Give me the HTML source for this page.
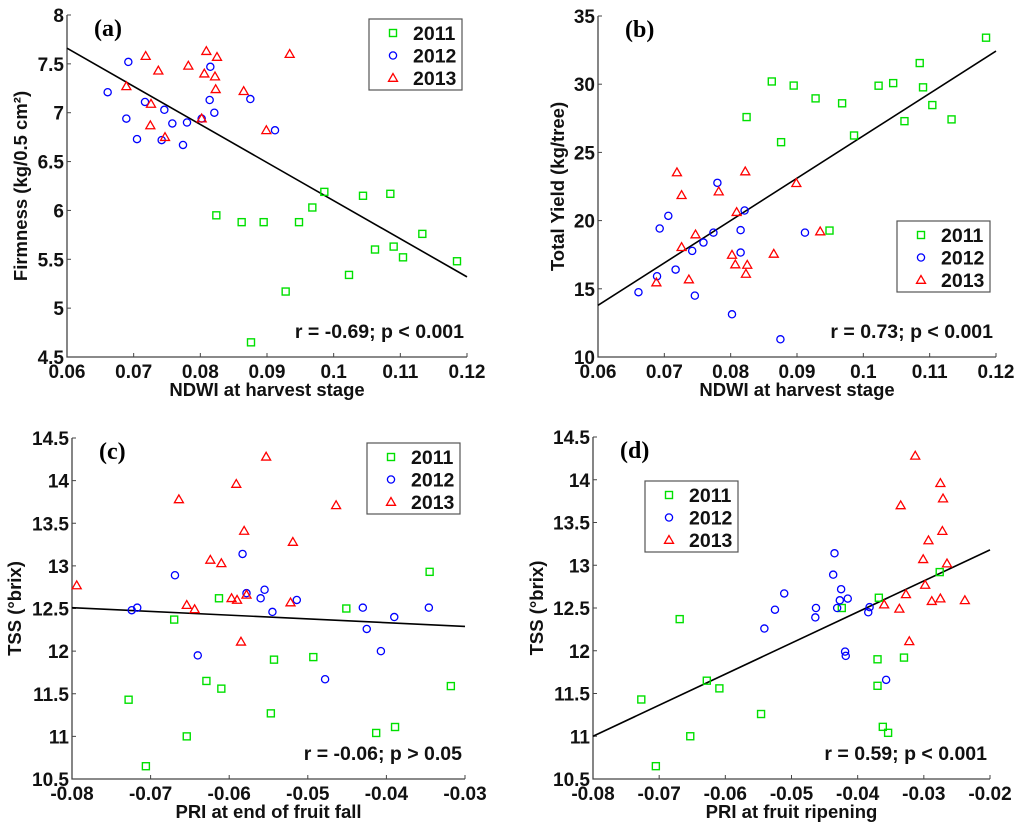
<!DOCTYPE html>
<html><head><meta charset="utf-8"><style>
html,body{margin:0;padding:0;background:#fff;}
svg{display:block;font-family:"Liberation Sans",Arial,sans-serif;}
.tk{font-size:19px;font-weight:bold;fill:#111;}
.tt{font-size:18.5px;font-weight:bold;fill:#111;}
.pl{font-family:"Liberation Serif",serif;font-size:24px;font-weight:bold;fill:#000;}
.lg{font-size:19.5px;font-weight:bold;fill:#111;}
</style></head><body>
<svg id="fig" width="1024" height="833" viewBox="0 0 1024 833" xmlns="http://www.w3.org/2000/svg"></svg>
<script>
// Panel (a)
const aX2011=[0.0824,0.0862,0.0895,0.0948,0.0968,0.0986,0.1044,0.1085,0.1133,0.1062,0.1090,0.1104,0.1185,0.1023,0.0928,0.0876];
const aY2011=[5.95,5.88,5.88,5.88,6.03,6.19,6.15,6.17,5.76,5.60,5.63,5.52,5.48,5.34,5.17,4.65];
const aX2012=[0.0661,0.0692,0.0689,0.0705,0.0717,0.0742,0.0746,0.0758,0.0780,0.0774,0.0802,0.0815,0.0814,0.0821,0.0875,0.0912];
const aY2012=[7.21,7.52,6.94,6.73,7.11,6.72,7.03,6.89,6.90,6.67,6.94,7.47,7.13,7.00,7.14,6.82];
const aX2013=[0.0718,0.0737,0.0689,0.0726,0.0725,0.0747,0.0782,0.0802,0.0809,0.0806,0.0825,0.0822,0.0823,0.0865,0.0899,0.0934];
const aY2013=[7.58,7.43,7.27,7.09,6.87,6.75,7.48,6.94,7.63,7.40,7.57,7.37,7.24,7.22,6.82,7.60];
const aFit=[0.06,7.66,0.12,5.32];
// Panel (b)
const bX2011=[0.0824,0.0862,0.0895,0.0928,0.0968,0.0986,0.1045,0.1023,0.1085,0.1090,0.1104,0.1062,0.1133,0.1185,0.0876,0.0949];
const bY2011=[27.59,30.2,29.9,28.96,28.6,26.24,30.08,29.89,31.55,29.77,28.47,27.29,27.42,33.41,25.75,19.27];
const bX2012=[0.0661,0.0693,0.0706,0.0689,0.0717,0.0742,0.0746,0.0759,0.0774,0.0780,0.0821,0.0815,0.0815,0.0802,0.0912,0.0875];
const bY2012=[14.75,19.42,20.35,15.92,16.41,17.78,14.50,18.39,19.12,22.77,20.74,19.30,17.66,13.13,19.12,11.30];
const bX2013=[0.0719,0.0726,0.0688,0.0726,0.0737,0.0747,0.0782,0.0802,0.0809,0.0807,0.0822,0.0825,0.0823,0.0865,0.0899,0.0935];
const bY2013=[23.53,21.86,15.46,18.05,15.68,18.98,22.13,17.48,20.62,16.78,23.6,16.75,16.09,17.56,22.74,19.2];
const bFit=[0.06,13.79,0.12,32.43];
// Panel (c)
const cX2011=[-0.0728,-0.0706,-0.0670,-0.0654,-0.0629,-0.0613,-0.0610,-0.0547,-0.0543,-0.0493,-0.0451,-0.0413,-0.0389,-0.0345,-0.0318];
const cY2011=[11.43,10.65,12.37,11.0,11.65,12.62,11.56,11.27,11.90,11.93,12.50,11.04,11.11,12.93,11.59];
const cX2012=[-0.0724,-0.0717,-0.0669,-0.0640,-0.0583,-0.0578,-0.0560,-0.0555,-0.0545,-0.0514,-0.0478,-0.0430,-0.0425,-0.0407,-0.0390,-0.0346];
const cY2012=[12.48,12.51,12.89,11.95,13.14,12.68,12.62,12.72,12.46,12.60,11.67,12.51,12.26,12.0,12.40,12.51];
const cX2013=[-0.0794,-0.0664,-0.0654,-0.0644,-0.0624,-0.0610,-0.0597,-0.0591,-0.0590,-0.0585,-0.0581,-0.0578,-0.0553,-0.0522,-0.0519,-0.0464];
const cY2013=[12.77,13.78,12.54,12.49,13.07,13.03,12.62,13.96,12.60,12.11,13.41,12.66,14.28,12.57,13.28,13.71];
const cFit=[-0.08,12.51,-0.03,12.29];
// Panel (d)
const dX2011=[-0.0727,-0.0705,-0.0669,-0.0653,-0.0628,-0.0609,-0.0546,-0.0424,-0.0370,-0.0368,-0.0370,-0.0362,-0.0354,-0.0330,-0.0276];
const dY2011=[11.43,10.65,12.37,11.0,11.65,11.56,11.26,12.50,11.90,12.62,11.59,11.11,11.04,11.92,12.92];
const dX2012=[-0.0541,-0.0525,-0.0511,-0.0464,-0.0463,-0.0437,-0.0435,-0.0431,-0.0427,-0.0425,-0.0415,-0.0419,-0.0418,-0.0384,-0.0382,-0.0357];
const dY2012=[12.26,12.48,12.67,12.39,12.50,12.89,13.14,12.50,12.59,12.72,12.61,11.99,11.94,12.45,12.51,11.66];
const dX2013=[-0.0313,-0.0275,-0.0271,-0.0335,-0.0272,-0.0293,-0.0301,-0.0265,-0.0298,-0.0327,-0.0360,-0.0337,-0.0288,-0.0275,-0.0238,-0.0322];
const dY2013=[14.28,13.96,13.78,13.70,13.40,13.29,13.07,13.02,12.77,12.66,12.54,12.49,12.58,12.61,12.59,12.11];
const dFit=[-0.08,11.0,-0.02,13.18];
// tick labels
const ndwiTicks=["0.06","0.07","0.08","0.09","0.1","0.11","0.12"];
const firmTicks=["4.5","5","5.5","6","6.5","7","7.5","8"];
const yieldTicks=["10","15","20","25","30","35"];
const tssTicks=["10.5","11","11.5","12","12.5","13","13.5","14","14.5"];
const priCTicks=["-0.08","-0.07","-0.06","-0.05","-0.04","-0.03"];
const priDTicks=["-0.08","-0.07","-0.06","-0.05","-0.04","-0.03","-0.02"];
const years=["2011","2012","2013"];

const NS="http://www.w3.org/2000/svg";
const svg=document.getElementById('fig');
function mk(tag,attrs,parent,text){const e=document.createElementNS(NS,tag);for(const k in attrs)e.setAttribute(k,attrs[k]);if(text!==undefined)e.textContent=text;(parent||svg).appendChild(e);return e;}

function marker(g,kind,px,py){
  let e;
  if(kind===0){e=mk('rect',{x:px-3.5,y:py-3.5,width:7,height:7,fill:'none',stroke:'#00e000','stroke-width':1.4},g);}
  else if(kind===1){e=mk('circle',{cx:px,cy:py,r:3.6,fill:'none',stroke:'#0000ff','stroke-width':1.3},g);}
  else {e=mk('polygon',{points:`${px},${py-4.5} ${px-4.5},${py+3.3} ${px+4.5},${py+3.3}`,fill:'none',stroke:'#ff0000','stroke-width':1.3},g);}
  return e;
}

function panel(p){
  const g=mk('g',{});
  
  
  const sx=v=>p.L+(v-p.x0)/(p.x1-p.x0)*(p.R-p.L);
  const sy=v=>p.B-(v-p.y0)/(p.y1-p.y0)*(p.B-p.T);
  const ax=mk('path',{d:`M${p.L},${p.T}V${p.B}H${p.R}`,fill:'none',stroke:'#444','stroke-width':1.3},g);
  
  
  p.xt.forEach(t=>{const v=parseFloat(t),x=sx(v);
    mk('line',{x1:x,y1:p.B,x2:x,y2:p.B-4,stroke:'#444','stroke-width':1},g);
    const tx=mk('text',{x:x,y:p.B+21,'text-anchor':'middle',class:'tk'},g,t);
    
    });
  p.yt.forEach(t=>{const v=parseFloat(t),y=sy(v);
    mk('line',{x1:p.L,y1:y,x2:p.L+4,y2:y,stroke:'#444','stroke-width':1},g);
    const ty=mk('text',{x:p.L-3,y:y+7,'text-anchor':'end',class:'tk'},g,t);
    
    });
  const xl=mk('text',{x:(p.L+p.R)/2,y:p.B+39,'text-anchor':'middle',class:'tt'},g,p.xlab);
  
  
  const yl=mk('text',{x:0,y:0,'text-anchor':'middle',class:'tt',transform:`translate(${p.ylx},${(p.T+p.B)/2}) rotate(-90)`},g,p.ylab);
  
  
  const lab=mk('text',{x:p.L+27,y:p.T+21,class:'pl'},g,p.label);
  
  
  const f=p.fit;
  const fl=mk('line',{x1:sx(f[0]),y1:sy(f[1]),x2:sx(f[2]),y2:sy(f[3]),stroke:'#000','stroke-width':1.6},g);
  
  
  p.series.forEach((s,k)=>{
    s[0].forEach((xv,i)=>{const m=marker(g,k,sx(xv),sy(s[1][i]));
      
      });
  });
  const an=mk('text',{x:p.R-3,y:p.B-19,'text-anchor':'end',class:'lg'},g,p.stat);
  
  
  const lg=mk('g',{},g);
  
  
  mk('rect',{x:p.lgx,y:p.lgy,width:93,height:71,fill:'#fff',stroke:'#555','stroke-width':1.2},lg);
  years.forEach((yr,k)=>{const cy=p.lgy+14+k*22.5;
    marker(lg,k,p.lgx+24,cy);
    const t=mk('text',{x:p.lgx+44,y:cy+7,class:'lg'},lg,yr);
    
    });
}

panel({id:'a',label:'(a)',L:67,R:467,T:15,B:357,x0:0.06,x1:0.12,y0:4.5,y1:8,xt:ndwiTicks,yt:firmTicks,
  xlab:'NDWI at harvest stage',ylab:'Firmness (kg/0.5 cm²)',ylx:27,fit:aFit,stat:'r = -0.69; p < 0.001',
  series:[[aX2011,aY2011],[aX2012,aY2012],[aX2013,aY2013]],lgx:369,lgy:19});
panel({id:'b',label:'(b)',L:598,R:996,T:16,B:357,x0:0.06,x1:0.12,y0:10,y1:35,xt:ndwiTicks,yt:yieldTicks,
  xlab:'NDWI at harvest stage',ylab:'Total Yield (kg/tree)',ylx:564,fit:bFit,stat:'r = 0.73; p < 0.001',
  series:[[bX2011,bY2011],[bX2012,bY2012],[bX2013,bY2013]],lgx:897,lgy:221});
panel({id:'c',label:'(c)',L:72,R:465,T:438,B:779,x0:-0.08,x1:-0.03,y0:10.5,y1:14.5,xt:priCTicks,yt:tssTicks,
  xlab:'PRI at end of fruit fall',ylab:'TSS (°brix)',ylx:21,fit:cFit,stat:'r = -0.06; p > 0.05',
  series:[[cX2011,cY2011],[cX2012,cY2012],[cX2013,cY2013]],lgx:367,lgy:443});
panel({id:'d',label:'(d)',L:593,R:990,T:437,B:779,x0:-0.08,x1:-0.02,y0:10.5,y1:14.5,xt:priDTicks,yt:tssTicks,
  xlab:'PRI at fruit ripening',ylab:'TSS (°brix)',ylx:543,fit:dFit,stat:'r = 0.59; p < 0.001',
  series:[[dX2011,dX2011.length?dY2011:[]],[dX2012,dY2012],[dX2013,dY2013]],lgx:645,lgy:481});
</script>
</body></html>
